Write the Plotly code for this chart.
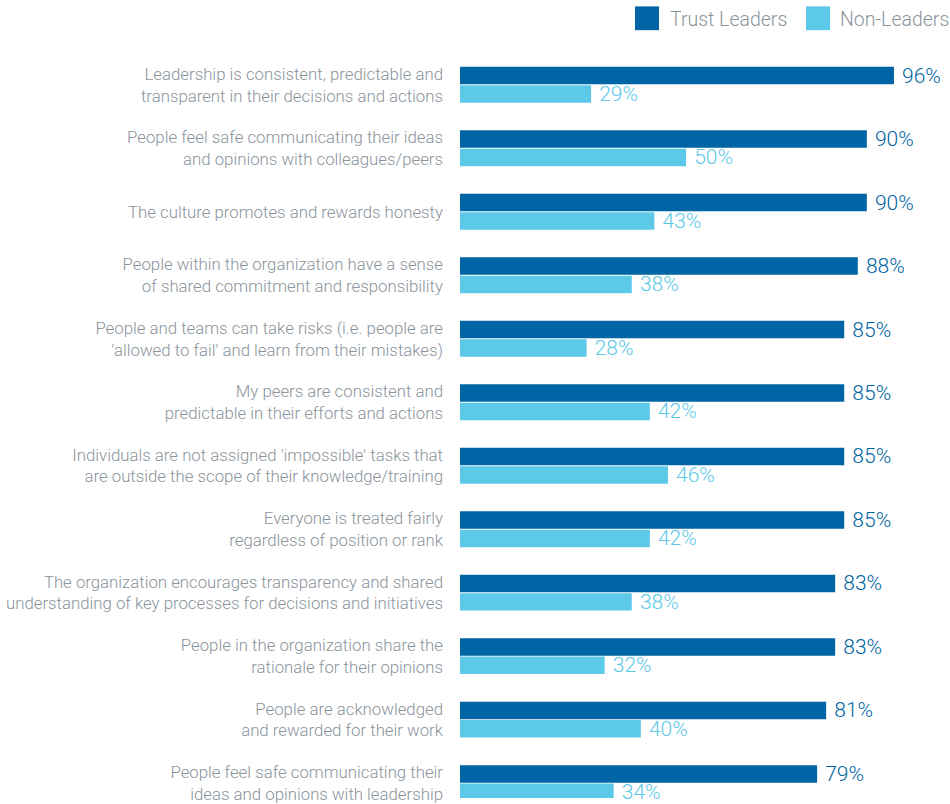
import plotly.graph_objects as go

categories = [
    "Leadership is consistent, predictable and<br>transparent in their decisions and actions",
    "People feel safe communicating their ideas<br>and opinions with colleagues/peers",
    "The culture promotes and rewards honesty",
    "People within the organization have a sense<br>of shared commitment and responsibility",
    "People and teams can take risks (i.e. people are<br>'allowed to fail' and learn from their mistakes)",
    "My peers are consistent and<br>predictable in their efforts and actions",
    "Individuals are not assigned 'impossible' tasks that<br>are outside the scope of their knowledge/training",
    "Everyone is treated fairly<br>regardless of position or rank",
    "The organization encourages transparency and shared<br>understanding of key processes for decisions and initiatives",
    "People in the organization share the<br>rationale for their opinions",
    "People are acknowledged<br>and rewarded for their work",
    "People feel safe communicating their<br>ideas and opinions with leadership",
]
trust_leaders = [96, 90, 90, 88, 85, 85, 85, 85, 83, 83, 81, 79]
non_leaders = [29, 50, 43, 38, 28, 42, 46, 42, 38, 32, 40, 34]
series_names = ["Trust Leaders", "Non-Leaders"]
colors = ["#0065A4", "#5DC9E8"]

W, H = 950, 804
ML, MR, MT, MB = 460, 0, 53, 0
FONT = "Roboto"

def px(x):
    return (x - ML) / (W - ML - MR)

def py(y):
    return 1 - (y - MT) / (H - MT - MB)

fig = go.Figure()
for name, vals, col in zip(series_names, [trust_leaders, non_leaders], colors):
    fig.add_trace(go.Bar(
        y=list(range(len(categories))), x=vals, orientation="h", name=name,
        marker=dict(color=col, line=dict(width=0)),
        text=["\u00a0" + f"{v}%" for v in vals], textposition="outside",
        textfont=dict(color=col, size=21, family=FONT, weight=300),
        constraintext="none",
        cliponaxis=False, showlegend=False, hoverinfo="skip",
    ))

fig.update_layout(
    width=W, height=H, margin=dict(l=ML, r=MR, t=MT, b=MB),
    paper_bgcolor="white", plot_bgcolor="white",
    barmode="group", bargap=0.42, bargroupgap=0.05,
    xaxis=dict(range=[0, 108.4], visible=False, showgrid=False, zeroline=False),
    yaxis=dict(range=[11.234, -0.5], tickmode="array",
               tickvals=list(range(len(categories))), ticktext=categories,
               showgrid=False, zeroline=False, showline=False, ticks="",
               ticklabelstandoff=16, ticklabeloverflow="allow",
               tickfont=dict(family=FONT, size=16.8, color="#8A949C", weight=300)),
    font=dict(family=FONT),
)

# legend
leg = [(635, 668, series_names[0], colors[0]), (806, 838, series_names[1], colors[1])]
for sx, tx, name, col in leg:
    fig.add_shape(type="rect", xref="paper", yref="paper",
                  x0=px(sx), x1=px(sx + 24), y0=py(30), y1=py(6),
                  fillcolor=col, line=dict(width=0))
    fig.add_annotation(xref="paper", yref="paper", x=px(tx), y=py(19),
                       text=name, showarrow=False, xanchor="left", yanchor="middle",
                       font=dict(family=FONT, size=19.5, color="#8A949C", weight=300))

fig.write_html("out.html", config={"displayModeBar": False},
               post_script="document.body.style.margin='0';document.body.style.overflow='hidden';")
